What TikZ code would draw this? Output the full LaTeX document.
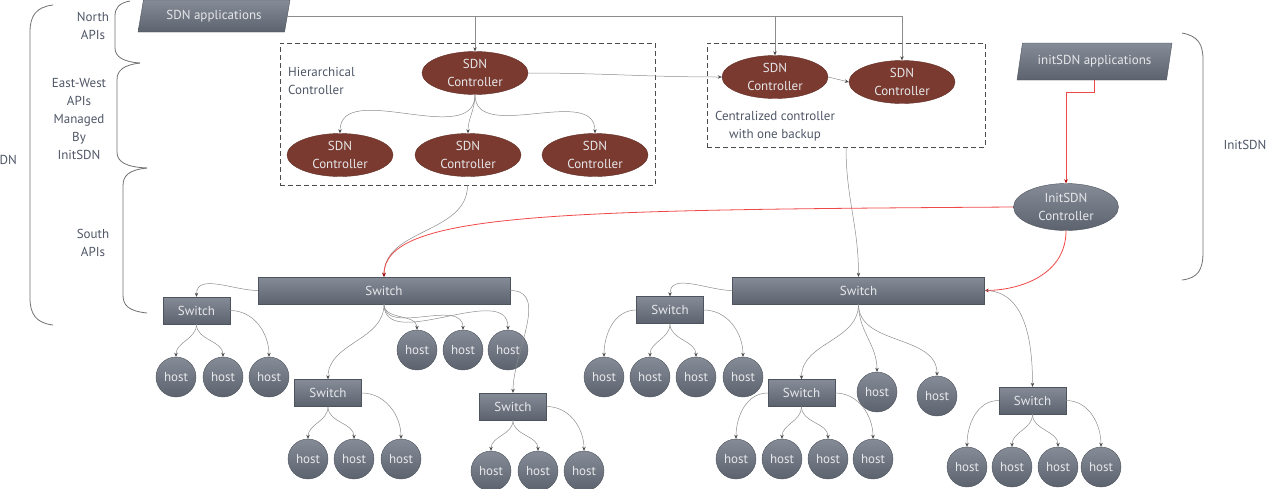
\documentclass[tikz,border=0pt]{standalone}
\usepackage{fontspec}
\setmainfont{PT Sans}
\usetikzlibrary{shapes,arrows.meta,positioning,calc}

\definecolor{ctrlred}{HTML}{7B3A2F}
\definecolor{swtop}{HTML}{868C97}
\definecolor{swbot}{HTML}{5D636E}
\definecolor{swline}{HTML}{4E545D}
\definecolor{linkgray}{HTML}{8C8C8C}
\definecolor{labelblue}{HTML}{4E5666}
\definecolor{bracegray}{HTML}{707070}
\definecolor{nodetext}{HTML}{E6E7EA}
\definecolor{initred}{HTML}{F04848}

\tikzset{
  every node/.style={font=\fontsize{13}{18}\selectfont},
  lbl/.style={text=labelblue, align=center, inner sep=0},
  brace/.style={draw=bracegray, line width=0.8pt},
  group/.style={draw=black!70, dashed, dash pattern=on 5pt off 3pt, line width=0.6pt, minimum width=#1},
  app/.style={trapezium, trapezium left angle=71, trapezium right angle=109,
    trapezium stretches body, top color=swtop, bottom color=swbot, draw=swline,
    text=nodetext, minimum height=32, inner sep=2pt},
  ctrl/.style={ellipse, fill=ctrlred, draw=ctrlred!80!black, text=nodetext,
    align=center, minimum width=106, minimum height=43, inner sep=0},
  ictrl/.style={ellipse, top color=swtop, bottom color=swbot, draw=swline, text=nodetext,
    align=center, minimum width=105, minimum height=47, inner sep=0},
  sw/.style={rectangle, top color=swtop, bottom color=swbot, draw=swline, text=nodetext,
    minimum width=67, minimum height=27, inner sep=0},
  bigsw/.style={sw, minimum width=252},
  hostnode/.style={circle, top color=swtop, bottom color=swbot, draw=swline, text=nodetext,
    minimum size=40, inner sep=0},
  link/.style={draw=linkgray, line width=0.5pt, -{Stealth[length=4pt,width=3.5pt,color=black!70]}},
  redlink/.style={draw=initred, line width=0.8pt, -{Stealth[length=4pt,width=3.5pt,color=red!70!black]}}
}

\begin{document}
\begin{tikzpicture}[x=1pt,y=-1pt]
	\useasboundingbox (0,0) rectangle (1273,488);
	% braces and api labels
	\draw[brace] (53,5) .. controls (36,7) and (30,16) .. (30,32) -- (30,298) .. controls (30,314) and (36,323) .. (53,325);
	\draw[brace] (130,1) .. controls (119,3) and (115,8) .. (115,16) -- (115,48) .. controls (115,57) and (124,62) .. (140,63);
	\draw[brace] (140,63) .. controls (124,65) and (117,70) .. (117,80) -- (117,152) .. controls (117,162) and (126,167) .. (147,168);
	\draw[brace] (147,168) .. controls (128,170) and (123,176) .. (123,186) -- (123,295) .. controls (123,305) and (128,311) .. (147,313);
	\draw[brace] (1182,33) .. controls (1198,36) and (1203,44) .. (1203,60) -- (1203,252) .. controls (1203,270) and (1198,278) .. (1182,280);
	\node[lbl] (north) at (93,26) {North\\APIs};
	\node[lbl] (eastwest) at (79,119) {East-West\\APIs\\Managed\\By\\InitSDN};
	\node[lbl] (south) at (93,243) {South\\APIs};
	\node[lbl, anchor=east] (sdn) at (17,160) {SDN};
	\node[lbl] (initsdn) at (1245,145) {InitSDN};
	% applications
	\node[app, minimum width=152] (apps) at (214,16) {SDN applications};
	\node[app, minimum width=155, minimum height=37] (iapps) at (1094.5,61.5) {initSDN applications};
	% controller groups
	\node[group=375, minimum height=142] (hbox) at (467.5,114) {};
	\node[lbl, anchor=west, align=left] (hlabel) at (288,81) {Hierarchical\\Controller};
	\node[group=278, minimum height=104] (cbox) at (846,95) {};
	\node[lbl] (clabel) at (775,126) {Centralized controller\\with one backup};
	\node[ctrl] (root) at (475,73) {SDN\\Controller};
	\node[ctrl] (hleft) at (340,155) {SDN\\Controller};
	\node[ctrl] (hmid) at (468,155) {SDN\\Controller};
	\node[ctrl] (hright) at (595,155) {SDN\\Controller};
	\node[ctrl] (cmain) at (775,77) {SDN\\Controller};
	\node[ctrl] (cbackup) at (902,82) {SDN\\Controller};
	\node[ictrl] (ictrl) at (1066,207) {InitSDN\\Controller};
	% switches
	\node[bigsw] (swL) at (384,290.5) {Switch};
	\node[bigsw] (swR) at (858.5,290.5) {Switch};
	\node[sw] (swA) at (196.5,310.5) {Switch};
	\node[sw] (swB) at (328,393) {Switch};
	\node[sw] (swC) at (513,406.5) {Switch};
	\node[sw] (swD) at (670,310) {Switch};
	\node[sw] (swE) at (801.5,393) {Switch};
	\node[sw] (swF) at (1032.5,400.5) {Switch};
	% hosts
	\foreach \x [count=\i] in {176,223,269} \node[hostnode] (hA\i) at (\x,377) {host};
	\foreach \x [count=\i] in {308,354,401} \node[hostnode] (hB\i) at (\x,459) {host};
	\foreach \x [count=\i] in {417,463,508} \node[hostnode] (hL\i) at (\x,350) {host};
	\foreach \x [count=\i] in {491,538,584} \node[hostnode] (hC\i) at (\x,471) {host};
	\foreach \x [count=\i] in {604,650,696,743} \node[hostnode] (hD\i) at (\x,377) {host};
	\foreach \x [count=\i] in {736,782,828,873} \node[hostnode] (hE\i) at (\x,459) {host};
	\foreach \x [count=\i] in {967,1012,1058,1101} \node[hostnode] (hF\i) at (\x,467) {host};
	\node[hostnode] (hR1) at (877,392) {host};
	\node[hostnode] (hR2) at (937,396) {host};
	% north links
	\draw[link] (apps.east) -| (cbackup.north);
	\draw[link] (root.north |- apps.east) -- (root.north);
	\draw[link] (cmain.north |- apps.east) -- (cmain.north);
	\draw[link] (root.east) to[out=0,in=180] (cmain.west);
	\draw[link] (cmain.east) -- (cbackup.west);
	\foreach \c in {hleft,hmid,hright}
		\draw[link] (root.south) to[out=-90,in=90] (\c.north);
	% south links
	\draw[link] (hbox.south) to[out=-90,in=90] (swL.north);
	\draw[link] (cbox.south) to[out=-90,in=90] (swR.north);
	% initsdn links
	\draw[redlink] (iapps.south) -- ++(0,12) -| (ictrl.north);
	\draw[redlink] (ictrl.west) .. controls (560,210) and (384,212) .. (swL.north);
	\draw[redlink] (ictrl.south) .. controls (1066,275) and (1020,290) .. (swR.east);
	% left tree
	\draw[link] (swL.west) to[out=180,in=90] (swA.north);
	\draw[link] (swL.south) to[out=-90,in=90] (swB.north);
	\foreach \i in {1,2,3}
		\draw[link] (swL.south) to[out=-90,in=90] (hL\i.north);
	\draw[link] (swL.east) to[out=0,in=90] (swC.north);
	\foreach \s in {A,B,C} {
		\draw[link] (sw\s.south) to[out=-90,in=90] (h\s1.north);
		\draw[link] (sw\s.south) to[out=-90,in=90] (h\s2.north);
		\draw[link] (sw\s.east) to[out=0,in=90] (h\s3.north);
	}
	% right tree
	\draw[link] (swR.west) to[out=180,in=90] (swD.north);
	\draw[link] (swR.south) to[out=-90,in=90] (swE.north);
	\foreach \i in {1,2}
		\draw[link] (swR.south) to[out=-90,in=90] (hR\i.north);
	\draw[link] (swR.east) to[out=0,in=90] (swF.north);
	\foreach \s in {D,E,F} {
		\draw[link] (sw\s.west) to[out=180,in=90] (h\s1.north);
		\draw[link] (sw\s.south) to[out=-90,in=90] (h\s2.north);
		\draw[link] (sw\s.south) to[out=-90,in=90] (h\s3.north);
		\draw[link] (sw\s.east) to[out=0,in=90] (h\s4.north);
	}
\end{tikzpicture}
\end{document}
